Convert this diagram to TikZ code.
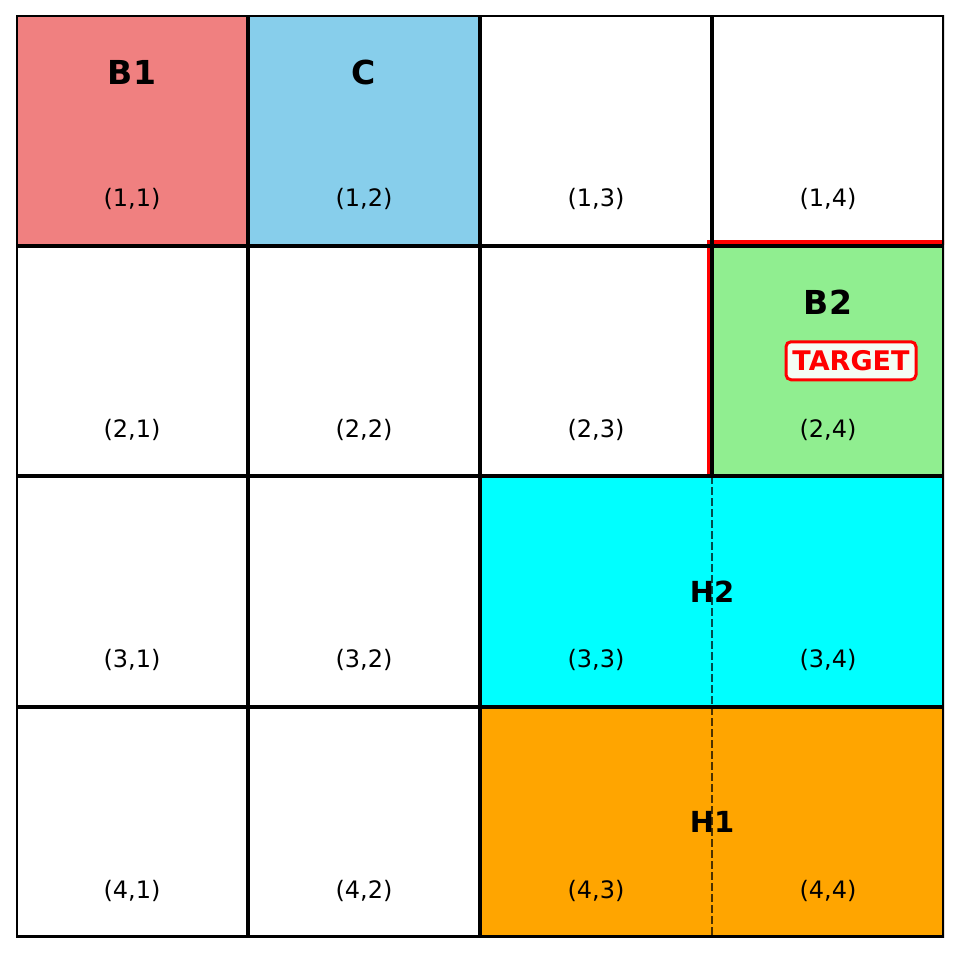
\documentclass[tikz,border=0pt]{standalone}
\usepackage{fontspec}
\setmainfont{DejaVu Sans}
\usetikzlibrary{positioning}
\definecolor{lcoral}{RGB}{240,128,128}
\definecolor{skyb}{RGB}{135,206,235}
\definecolor{lgreen}{RGB}{144,238,144}
\definecolor{aqua}{RGB}{0,255,255}
\definecolor{mplorange}{RGB}{255,165,0}

\begin{document}
\begin{tikzpicture}[x=0.5pt,y=-0.5pt,
  gridline/.style={line width=2pt},
  coord/.style={font=\fontsize{12}{14}\selectfont},
  blk/.style={font=\bfseries\fontsize{16.5}{19}\selectfont},
  hlbl/.style={font=\bfseries\fontsize{14.5}{17}\selectfont},
  tgt/.style={draw=red,line width=1.5pt,rounded corners=2.5pt,fill=white,fill opacity=0.9,text opacity=1,text=red,
    font=\bfseries\fontsize{13.5}{16}\selectfont,minimum width=65pt,minimum height=19pt,inner sep=0pt}]
\useasboundingbox (0,0) rectangle (959,953);
% coloured cells
\fill[lcoral] (16,15) rectangle (248,245.5);
\fill[skyb] (248,15) rectangle (480,245.5);
\fill[lgreen] (712,245.5) rectangle (944,476);
\fill[aqua] (480,476) rectangle (944,706.5);
\fill[mplorange] (480,706.5) rectangle (944,937);
% grid
\begin{scope}
\clip (16,15) rectangle (944,937);
\draw[red,line width=2.5pt] (709.5,476) -- (709.5,242.5) -- (960,242.5);
\draw[gridline] (16,15) rectangle (944,937);
\foreach \x in {248,480} \draw[gridline] (\x,15) -- (\x,937);
\draw[gridline] (712,15) -- (712,476);
\foreach \y in {245.5,476,706.5} \draw[gridline] (16,\y) -- (944,\y);
\end{scope}
% cell labels
\foreach \r in {1,...,4}
  \foreach \c in {1,...,4}
    \node[coord] (p\r\c) at ({16+232*(\c-0.5)},{15+230.5*(\r-0.2)}) {(\r,\c)};
\node[blk] (b1) at (132,72) {B1};
\node[blk] (cc) at (364,72) {C};
\node[blk] (b2) at (828,302.5) {B2};
\node[tgt] (target) at (851,360.75) {TARGET};
\node[hlbl] (h2) at (712,591.25) {H2};
\node[hlbl] (h1) at (712,821.75) {H1};
% split of the wide blocks
\draw[black,opacity=0.7,line width=1pt,dash pattern=on 3.85pt off 1.65pt] (712,476) -- (712,937);
\end{tikzpicture}
\end{document}
